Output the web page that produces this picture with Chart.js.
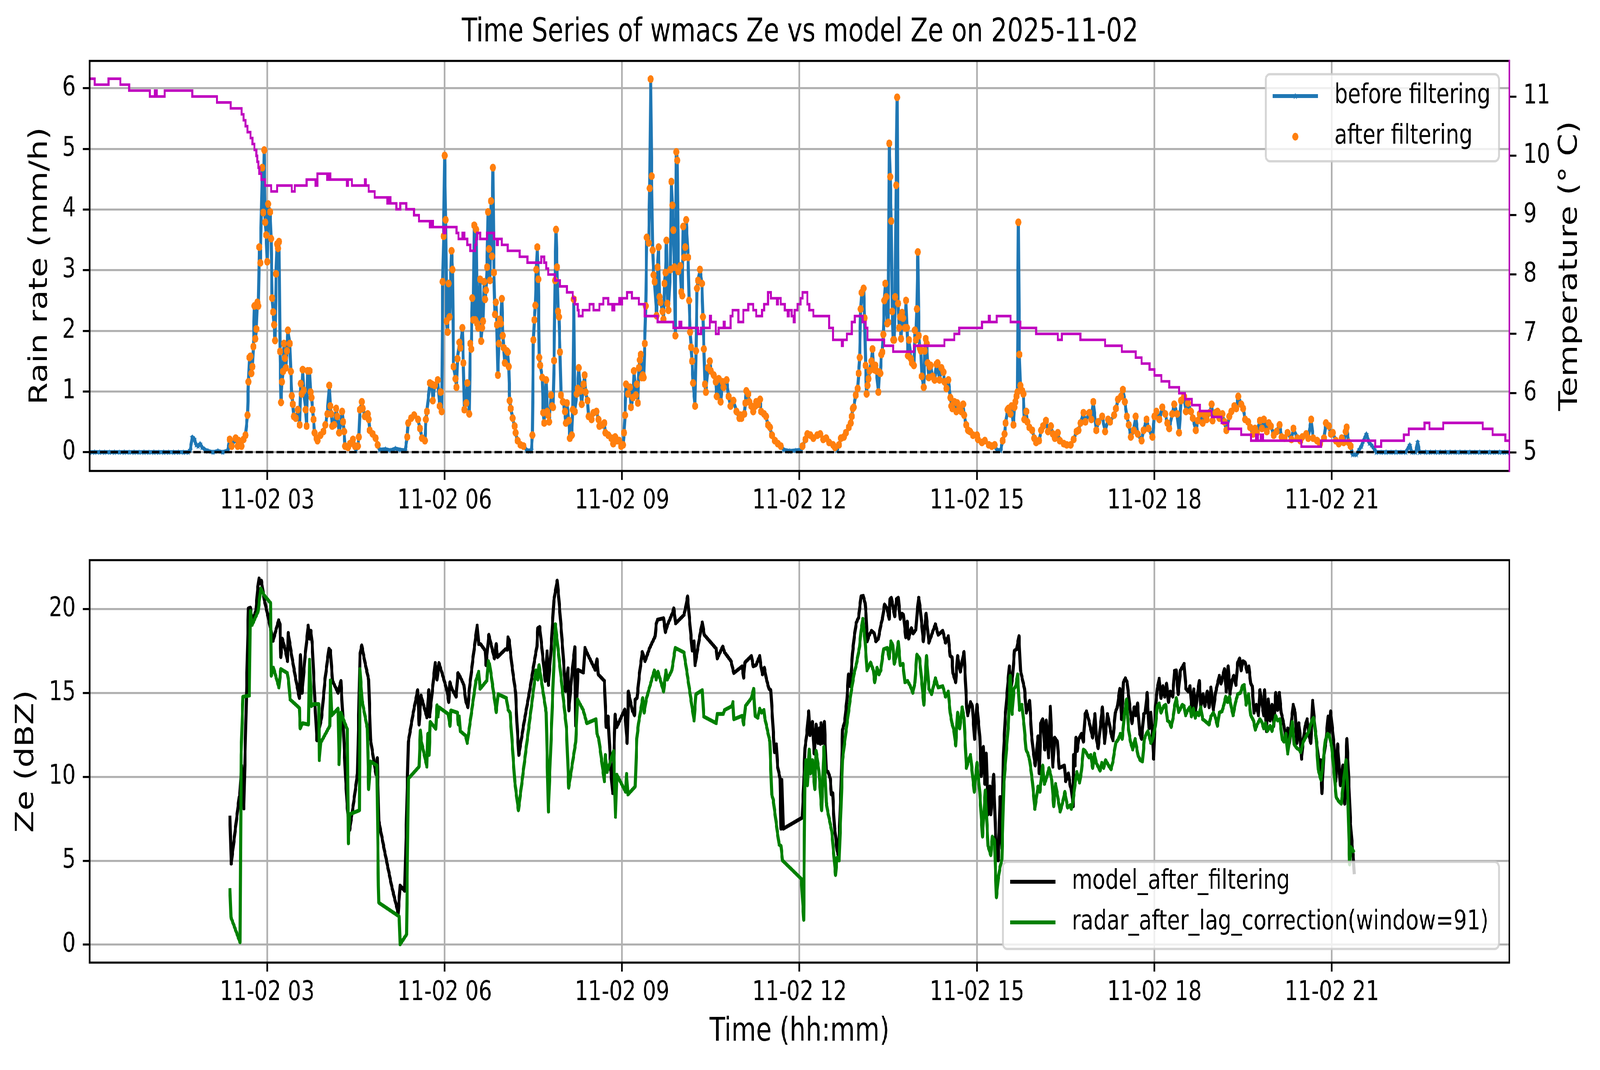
<!DOCTYPE html>
<html><head><meta charset="utf-8">
<script src="https://cdn.jsdelivr.net/npm/chart.js@4.4.1/dist/chart.umd.min.js"></script>
<style>
html,body{margin:0;padding:0;background:#fff;overflow:hidden;width:100%;height:100%;}
#viewport{position:fixed;left:0;top:0;width:100vw;height:100vh;overflow:hidden;background:#fff;}
#wrap{position:absolute;left:0;top:0;width:5241px;height:2740px;background:#fff;transform-origin:0 0;}
canvas{position:absolute;left:0;}
</style></head><body>
<div id="viewport"><div id="wrap">
<canvas id="topChart" width="5241" height="1370" style="top:0;width:5241px;height:1370px"></canvas>
<canvas id="botChart" width="5241" height="1370" style="top:1370px;width:5241px;height:1370px"></canvas>
</div></div>
<script>
(function () {
  const sx = window.innerWidth / 5241, sy = window.innerHeight / 2740;
  document.getElementById('wrap').style.transform = 'scale(' + sx + ',' + sy + ')';
})();
// ---------------- DATA (minutes after 2025-11-02 00:00) ----------------
const xTickMinutes = [180, 360, 540, 720, 900, 1080, 1260];
const rainTicks = [0, 1, 2, 3, 4, 5, 6];
const tempTicks = [5, 6, 7, 8, 9, 10, 11];
const zeTicks = [0, 5, 10, 15, 20];

// rain rate before filtering [minute, mm/h]
const rainSeries = [
[0,0],[5,0],[10,0],[15,0],[20,0],[25,0],[30,0],[35,0],[40,0],[45,0],[50,0],[55,0],[60,0],[65,0],[70,0],[75,0],[80,0],[85,0],[90,0],[95,0],[100,0],[102,0.04],[104,0.25],[106,0.22],[108,0.12],[110,0.1],[112,0.14],[114,0.08],[117,0.04],[120,0.02],[125,0],[130,0.02],[135,0],[140,0.03],
[142,0.21],[144,0.10],[148,0.23],[150,0.10],[151,0.19],[154,0.10],[156,0.21],[158,0.28],[160,0.61],[161,1.16],[162,1.56],[163,1.58],[164,1.30],[165,1.41],[166,1.74],[167,2.41],[168,1.87],[169,2.03],[170,2.47],[171,2.41],[172,3.38],[173,3.12],[175,4.69],[176,3.95],[177,4.98],[178,3.79],[179,3.58],[180,3.14],[181,4.09],[183,3.96],[184,3.52],[185,2.54],[186,2.31],[187,2.10],[188,1.84],[189,2.94],[190,3.43],[191,3.36],[192,3.47],[193,1.66],[194,0.82],[195,1.16],[196,1.33],[197,1.79],[198,1.55],[199,1.39],[200,1.67],[201,2.01],[203,1.79],[204,1.33],[205,0.93],[206,0.79],[207,0.59],[209,0.56],[211,0.70],[213,0.45],[214,1.13],[215,0.96],[216,1.36],[217,1.02],[219,0.70],[220,0.43],[221,1.34],[223,1.34],[224,0.99],[225,0.90],[226,0.70],[227,0.54],[228,0.32],[230,0.23],[231,0.19],[234,0.28],[237,0.34],[239,0.45],[241,0.63],[243,1.10],[244,0.76],[245,0.63],[246,0.43],[248,0.45],[250,0.72],[251,0.59],[253,0.32],[256,0.67],[257,0.50],[258,0.34],[259,0.10],[262,0.08],[264,0.14],[267,0.21],[269,0.10],[270,0.03],[272,0.10],[273,0.25],[274,0.70],[276,0.83],[277,0.72],[279,0.59],[282,0.63],[283,0.54],[284,0.36],[287,0.30],[290,0.23],[292,0.12],[294,0.04],[300,0.05],[305,0.03],[310,0.06],[315,0.04],[320,0.03],[322,0.25],[323,0.48],[326,0.56],[329,0.61],[333,0.54],[335,0.39],[337,0.23],[340,0.19],[341,0.54],[342,0.67],[345,1.14],[347,1.12],[348,0.85],[350,1.10],[353,1.19],[355,0.76],[356,0.99],[357,0.67],[358,2.81],[359,3.56],[360,4.89],[361,3.83],[362,2.16],[363,1.98],[364,2.78],[365,2.23],[367,3.32],[368,3.01],[369,1.41],[371,1.21],[372,1.07],[373,1.54],[375,1.81],[376,1.72],[378,2.05],[379,1.47],[380,0.70],[382,0.81],[383,1.14],[385,0.63],[386,1.79],[387,1.70],[388,2.54],[389,2.18],[390,3.74],[391,2.18],[392,3.67],[393,2.12],[394,2.05],[396,2.85],[397,1.83],[398,2.05],[399,2.16],[400,2.81],[401,2.52],[402,2.67],[403,3.05],[404,3.96],[405,3.35],[406,2.83],[407,4.14],[408,3.23],[409,4.69],[410,2.96],[411,2.27],[412,2.47],[413,2.10],[414,1.27],[415,1.79],[416,2.19],[417,2.12],[418,2.53],[419,1.92],[420,1.72],[421,1.47],[423,1.67],[424,1.65],[425,1.41],[426,0.85],[427,0.72],[429,0.56],[431,0.43],[432,0.32],[434,0.19],[437,0.12],[440,0.10],[443,0.04],[446,0.02],[448,0.04],[449,0.28],[450,1.85],[451,2.18],[452,2.42],[453,3.01],[454,3.38],[455,2.85],[456,1.56],[457,1.43],[459,1.23],[460,0.65],[461,0.48],[463,1.19],[464,0.67],[465,0.61],[466,0.50],[468,0.94],[469,0.76],[470,0.74],[471,1.51],[472,2.83],[473,3.67],[474,3.05],[475,2.32],[476,2.23],[477,1.65],[478,0.94],[480,0.83],[482,0.67],[483,0.48],[484,0.81],[486,0.52],[487,0.23],[489,0.28],[490,0.70],[491,2.52],[492,0.67],[494,0.96],[495,1.05],[496,1.39],[498,1.01],[499,0.79],[501,1.12],[502,1.27],[503,0.99],[505,0.85],[506,0.59],[509,0.54],[511,0.65],[514,0.67],[516,0.54],[517,0.43],[520,0.45],[522,0.48],[523,0.32],[526,0.28],[529,0.23],[531,0.14],[533,0.25],[535,0.19],[537,0.19],[539,0.10],[541,0.12],[542,0.32],[543,0.61],[544,1.12],[546,0.96],[548,1.07],[549,0.74],[551,0.90],[552,1.34],[554,0.94],[555,1.12],[556,0.81],[557,1.39],[558,1.52],[559,1.61],[560,1.23],[561,1.27],[562,1.23],[563,1.79],[564,2.41],[565,3.54],[567,3.45],[568,4.35],[569,6.15],[570,4.55],[571,3.33],[572,2.92],[573,2.81],[575,2.25],[576,3.05],[577,3.38],[578,2.56],[579,2.47],[581,2.32],[582,2.19],[583,2.78],[584,2.96],[585,3.49],[586,2.45],[587,2.34],[589,3.01],[590,4.46],[591,4.07],[592,3.66],[593,3.05],[594,1.92],[595,4.95],[596,4.81],[597,2.98],[599,3.07],[600,2.64],[601,2.58],[602,3.72],[603,3.21],[604,3.38],[605,3.83],[607,3.21],[608,2.50],[609,1.98],[610,1.73],[611,1.50],[612,1.14],[614,0.76],[615,1.67],[616,2.70],[617,2.83],[619,3.01],[621,2.78],[622,2.23],[623,1.70],[624,1.12],[625,0.99],[627,1.39],[629,1.50],[630,1.34],[633,1.27],[635,1.16],[636,0.92],[638,1.21],[640,0.83],[642,1.16],[643,1.07],[646,1.19],[648,0.92],[650,0.76],[653,0.85],[656,0.67],[659,0.56],[660,0.61],[661,0.56],[664,0.63],[665,0.81],[666,1.01],[668,0.96],[669,0.83],[671,0.76],[673,0.67],[675,0.76],[676,0.83],[678,0.79],[680,0.87],[681,0.67],[684,0.63],[686,0.59],[688,0.45],[690,0.41],[692,0.28],[695,0.19],[698,0.14],[701,0.10],[704,0.04],[710,0.02],[716,0.03],[722,0.04],[723,0.10],[726,0.21],[728,0.30],[731,0.28],[734,0.23],[738,0.28],[741,0.30],[744,0.21],[747,0.23],[750,0.16],[754,0.12],[756,0.08],[758,0.03],[760,0.12],[762,0.23],[765,0.25],[767,0.32],[770,0.41],[772,0.48],[773,0.59],[774,0.72],[775,0.74],[777,0.94],[779,1.05],[780,1.30],[781,1.56],[782,2.36],[783,2.63],[785,2.70],[786,2.21],[787,1.43],[788,0.96],[789,1.10],[790,1.21],[791,1.34],[793,1.50],[794,1.70],[795,1.43],[796,1.36],[797,1.43],[798,1.34],[800,0.99],[801,1.32],[802,1.30],[803,1.61],[804,1.65],[805,1.94],[806,2.50],[807,2.78],[808,2.56],[809,2.12],[810,2.14],[811,5.09],[812,4.54],[813,3.81],[814,2.32],[815,1.85],[816,1.85],[817,2.56],[818,4.40],[819,5.85],[820,2.45],[821,2.05],[822,2.23],[823,1.87],[824,2.30],[825,2.21],[827,2.05],[828,2.50],[829,2.05],[830,1.59],[831,1.85],[833,1.54],[834,1.47],[836,1.43],[837,2.01],[838,1.85],[839,2.36],[840,3.30],[841,1.92],[842,1.72],[843,1.67],[844,1.25],[846,1.07],[847,1.67],[848,1.87],[849,1.79],[850,1.47],[851,1.23],[852,1.41],[853,1.43],[855,1.25],[857,1.19],[859,1.45],[860,1.47],[862,1.19],[864,1.39],[866,1.32],[867,1.16],[869,1.05],[871,1.19],[873,0.90],[874,0.76],[875,0.72],[877,0.83],[879,0.67],[880,0.81],[882,0.72],[884,0.67],[886,0.79],[887,0.61],[889,0.45],[891,0.36],[893,0.34],[896,0.28],[900,0.28],[901,0.21],[905,0.16],[908,0.19],[912,0.12],[915,0.10],[918,0.12],[920,0.04],[924,0.03],[926,0.19],[928,0.30],[929,0.48],[931,0.70],[932,0.72],[934,0.63],[935,0.76],[937,0.45],[938,0.74],[939,0.83],[940,0.92],[941,0.99],[942,3.79],[943,1.61],[944,1.10],[946,1.01],[947,0.96],[948,0.54],[950,0.67],[951,0.50],[953,0.41],[956,0.36],[958,0.23],[960,0.16],[963,0.19],[965,0.36],[967,0.43],[970,0.52],[972,0.34],[975,0.43],[977,0.30],[979,0.23],[982,0.32],[984,0.19],[988,0.14],[991,0.12],[995,0.12],[998,0.21],[1001,0.34],[1003,0.36],[1005,0.48],[1008,0.65],[1010,0.50],[1014,0.65],[1016,0.54],[1018,0.83],[1021,0.36],[1023,0.50],[1027,0.59],[1030,0.34],[1033,0.54],[1035,0.50],[1039,0.61],[1041,0.72],[1043,0.87],[1046,0.92],[1048,1.03],[1050,0.83],[1052,0.59],[1054,0.45],[1056,0.25],[1059,0.36],[1061,0.59],[1063,0.30],[1067,0.19],[1069,0.36],[1072,0.54],[1074,0.39],[1078,0.25],[1080,0.59],[1082,0.67],[1085,0.54],[1088,0.74],[1091,0.63],[1093,0.48],[1095,0.39],[1098,0.63],[1100,0.79],[1103,0.63],[1105,0.32],[1107,0.85],[1110,0.92],[1112,0.67],[1114,0.81],[1117,0.67],[1119,0.56],[1122,0.36],[1124,0.52],[1126,0.63],[1129,0.48],[1131,0.61],[1133,0.54],[1136,0.65],[1138,0.79],[1139,0.52],[1142,0.65],[1144,0.67],[1146,0.56],[1149,0.63],[1151,0.50],[1153,0.36],[1156,0.59],[1158,0.67],[1161,0.76],[1163,0.72],[1165,0.92],[1168,0.79],[1170,0.72],[1172,0.54],[1175,0.50],[1177,0.41],[1180,0.30],[1182,0.39],[1184,0.32],[1187,0.52],[1189,0.39],[1191,0.54],[1194,0.34],[1196,0.48],[1198,0.43],[1201,0.28],[1204,0.34],[1207,0.45],[1209,0.25],[1212,0.23],[1215,0.32],[1219,0.21],[1221,0.39],[1225,0.23],[1228,0.19],[1230,0.25],[1234,0.30],[1236,0.23],[1239,0.54],[1241,0.23],[1245,0.19],[1248,0.14],[1252,0.23],[1254,0.48],[1257,0.43],[1259,0.30],[1261,0.32],[1264,0.19],[1267,0.14],[1270,0.23],[1272,0.16],[1274,0.34],[1275,0.41],[1277,0.16],[1279,0.10],
[1281,-0.04],[1285,-0.04],[1288,0.05],[1290,0.10],[1292,0.19],[1295,0.30],[1298,0.15],[1300,0.12],[1303,0.05],[1305,0],[1310,0],[1315,0],[1320,0],[1325,0],[1330,0],[1335,0],[1339,0.12],[1341,0],[1345,0],[1347,0.17],[1349,0],[1355,0],[1360,0],[1365,0],[1370,0],[1375,0],[1380,0],[1385,0],[1390,0],[1395,0],[1400,0],[1405,0],[1410,0],[1415,0],[1420,0],[1425,0],[1430,0],[1435,0],[1440,0]
];
// filter used for the "after filtering" points
const filterWindow = [140, 1280];
const filterMinRain = 0.08;

// temperature steps [minute, deg C]
const temperatureSteps = [
[0,11.3],[5,11.2],[19,11.3],[31,11.2],[40,11.1],[61,11.0],[66,11.1],[68,11.0],[76,11.1],[104,11.0],[129,10.9],[143,10.8],[154,10.7],[156,10.6],[158,10.5],[160,10.4],[163,10.3],[165,10.2],[167,10.1],[169,10.0],[170,9.9],[171,9.8],[172,9.7],[174,9.6],[178,9.5],[184,9.4],[190,9.5],[205,9.4],[208,9.5],[220,9.6],[229,9.5],[231,9.7],[241,9.6],[242,9.7],[244,9.6],[261,9.5],[262,9.6],[266,9.5],[279,9.6],[280,9.5],[283,9.4],[289,9.3],[302,9.2],[304,9.3],[305,9.2],[311,9.1],[315,9.2],[321,9.1],[329,9.0],[334,8.9],[345,8.8],[347,8.9],[348,8.8],[359,8.7],[361,8.8],[372,8.7],[374,8.6],[378,8.7],[380,8.6],[383,8.5],[386,8.4],[391,8.5],[392,8.6],[393,8.7],[396,8.6],[403,8.7],[410,8.6],[413,8.5],[414,8.6],[418,8.5],[424,8.4],[436,8.3],[444,8.2],[458,8.3],[461,8.2],[463,8.1],[465,8.0],[472,7.9],[477,7.8],[484,7.7],[490,7.6],[492,7.5],[495,7.4],[496,7.3],[500,7.4],[507,7.5],[511,7.4],[517,7.5],[521,7.6],[526,7.5],[530,7.4],[532,7.5],[537,7.6],[538,7.5],[540,7.6],[545,7.7],[550,7.6],[557,7.5],[563,7.3],[576,7.2],[592,7.1],[598,7.2],[600,7.1],[617,7.0],[620,7.1],[629,7.3],[630,7.2],[635,7.0],[638,7.1],[643,7.2],[644,7.1],[650,7.3],[652,7.4],[658,7.2],[663,7.4],[668,7.5],[673,7.4],[676,7.3],[682,7.4],[684,7.5],[688,7.7],[691,7.6],[697,7.5],[698,7.6],[701,7.5],[705,7.4],[708,7.3],[709,7.4],[712,7.3],[714,7.2],[715,7.4],[718,7.5],[721,7.6],[723,7.7],[728,7.5],[730,7.4],[734,7.3],[750,7.1],[754,6.9],[763,6.8],[764,6.9],[768,7.0],[773,7.2],[776,7.3],[784,7.2],[787,7.1],[789,6.9],[806,6.8],[815,6.7],[836,6.8],[867,6.9],[877,7.0],[882,7.1],[905,7.2],[912,7.3],[913,7.2],[920,7.3],[934,7.2],[944,7.1],[960,7.0],[982,6.9],[986,7.0],[1005,6.9],[1030,6.8],[1047,6.7],[1061,6.6],[1067,6.5],[1075,6.4],[1080,6.3],[1087,6.2],[1095,6.1],[1105,6.0],[1111,5.9],[1118,5.8],[1126,5.7],[1138,5.6],[1148,5.5],[1155,5.4],[1168,5.3],[1178,5.2],[1183,5.3],[1185,5.2],[1188,5.3],[1190,5.2],[1229,5.1],[1249,5.2],[1304,5.1],[1310,5.2],[1333,5.3],[1338,5.4],[1354,5.5],[1359,5.4],[1373,5.5],[1413,5.4],[1423,5.3],[1436,5.2],[1440,5.2]
];

// model Ze after filtering [minute, dBZ]
const modelSeries = [
[142.2,7.69],[143.5,4.83],[151.6,8.80],[152.2,8.87],[154.0,10.68],[156.3,8.12],[161.0,20.05],[162.9,20.09],[164.7,19.26],[168.5,19.89],[170.4,21.23],[171.7,21.83],[172.8,21.54],[174.1,21.70],[176.9,20.6],[181.1,19.5],[185.9,18.11],[191.6,19.34],[192.9,19.10],[193.8,17.14],[195.3,18.24],[198.5,17.53],[200.6,16.90],[201.3,18.58],[202.8,18.0],[205.1,17.14],[208.8,15.88],[212.6,14.70],[213.7,17.26],[215.4,15.01],[218.2,17.06],[221.6,19.02],[222.9,18.24],[224.2,18.71],[225.7,17.92],[227.6,15.40],[230.4,12.18],[235.1,13.52],[238.8,15.88],[242.6,17.64],[244.1,17.53],[246.3,15.72],[251.9,15.01],[254.8,15.72],[257.2,13.04],[259.5,9.90],[261.3,8.17],[263.6,6.83],[267.9,8.56],[271.6,10.21],[274.1,17.29],[275.9,17.84],[279.2,16.82],[282.9,15.80],[284.8,12.26],[287.6,11.16],[290.4,10.13],[291.7,11.12],[293.2,7.38],[298.8,5.65],[306.4,3.45],[312.9,1.87],[314.8,3.52],[319.5,3.21],[323.2,12.10],[327.9,13.75],[332.6,15.17],[334.1,13.12],[336.0,14.85],[342.0,13.55],[343.9,15.17],[344.8,13.6],[350.4,16.79],[352.3,15.80],[354.2,16.79],[358.9,15.88],[362.6,15.09],[364.1,14.46],[365.4,15.64],[367.3,15.25],[371.6,14.78],[373.5,16.19],[375.8,15.96],[379.5,15.48],[381.4,14.54],[383.6,14.15],[385.1,15.25],[388.9,17.14],[393.0,19.02],[394.5,17.92],[396.4,17.92],[401.1,17.53],[402.0,16.66],[404.8,18.47],[410.5,17.06],[412.3,17.92],[413.6,17.14],[421.7,17.61],[423.6,17.58],[424.2,18.32],[425.4,18.16],[428.2,16.66],[432.0,15.01],[433.3,13.28],[435.2,11.31],[440.4,13.20],[446.1,15.09],[450.8,16.82],[453.6,17.77],[454.5,18.87],[456.4,18.94],[459.2,17.37],[462.0,15.72],[463.9,17.48],[465.2,15.48],[467.6,17.29],[470.8,20.52],[474.2,21.70],[476.1,20.44],[479.8,17.61],[482.6,15.12],[485.1,16.47],[486.0,13.96],[489.2,16.19],[492.0,17.73],[493.0,13.04],[495.2,16.38],[500.8,16.22],[502.3,17.69],[504.6,17.37],[512.7,16.38],[514.5,17.01],[515.8,16.11],[522.0,15.72],[523.9,12.97],[525.8,13.60],[528.6,10.37],[530.5,9.03],[532.9,13.71],[534.6,12.97],[539.9,13.67],[542.7,14.02],[545.1,12.02],[546.4,15.09],[550.2,13.99],[552.6,13.67],[553.4,14.62],[555.2,14.70],[557.7,16.19],[560.5,17.45],[563.3,16.90],[568.0,17.69],[573.6,18.39],[574.6,19.10],[575.9,19.37],[582.1,19.46],[583.9,18.63],[585.8,19.02],[591.4,19.81],[592.4,20.05],[594.3,19.15],[602.7,19.65],[604.6,20.13],[606.4,20.76],[611.1,17.53],[613.0,18.08],[614.0,16.66],[619.0,18.47],[621.4,19.21],[623.3,18.47],[635.5,17.64],[636.5,17.06],[642.1,17.77],[644.0,17.42],[650.5,16.90],[653.3,16.19],[661.8,16.59],[663.3,15.91],[664.6,16.82],[671.2,17.21],[673.0,16.59],[675.8,16.66],[679.6,17.21],[680.5,16.74],[682.4,16.11],[684.3,16.51],[686.2,15.88],[689.0,15.25],[690.9,15.17],[693.3,12.73],[694.6,11.47],[696.5,11.94],[697.8,10.61],[700.2,9.90],[701.2,6.91],[702.1,9.82],[703.4,6.91],[722.7,7.57],[724.2,9.58],[725.5,11.71],[727.4,12.57],[729.3,13.91],[730.6,12.49],[733.0,13.28],[734.9,11.39],[736.8,13.12],[738.7,12.02],[740.0,12.89],[741.1,11.97],[741.8,13.20],[743.3,12.02],[745.2,13.28],[747.1,10.37],[749.0,10.29],[751.2,9.90],[752.3,8.95],[753.7,9.03],[754.6,7.85],[755.5,6.99],[756.8,6.36],[758.0,5.65],[759.3,5.33],[760.6,7.07],[762.1,9.43],[763.6,12.81],[765.8,13.28],[768.1,14.62],[769.6,16.11],[771.5,15.41],[773.7,17.37],[775.6,18.39],[777.5,19.18],[779.9,19.50],[782.4,20.76],[784.6,20.79],[786.5,20.36],[787.4,19.73],[788.7,18.08],[790.2,18.39],[793.0,18.71],[795.9,18.55],[797.4,18.08],[800.0,18.24],[802.4,19.02],[804.3,19.50],[806.2,20.28],[808.6,20.05],[810.9,19.42],[811.8,20.60],[813.1,20.68],[814.6,20.20],[816.5,19.57],[818.4,20.60],[820.2,20.68],[822.1,19.42],[824.0,19.73],[825.5,19.65],[827.7,18.32],[829.2,19.26],[830.6,18.24],[833.4,18.87],[835.3,18.55],[838.1,18.79],[839.4,19.89],[840.9,20.68],[842.4,20.05],[845.6,18.08],[848.4,19.73],[851.2,18.0],[857.8,19.10],[860.6,18.47],[865.3,18.71],[868.1,18.0],[870.9,18.39],[872.8,17.21],[874.6,17.14],[875.6,16.19],[878.4,15.64],[880.3,17.21],[883.1,16.27],[886.8,17.45],[889.6,14.15],[890.6,13.67],[893.4,14.46],[895.3,14.22],[897.5,12.26],[900.0,14.30],[902.8,12.42],[904.3,10.05],[906.5,11.79],[908.0,9.58],[909.4,11.39],[911.2,7.77],[913.1,9.43],[914.0,7.77],[916.9,10.13],[919.3,5.81],[921.5,5.02],[923.4,8.80],[925.3,5.73],[926.8,11.31],[928.7,13.60],[930.9,15.25],[932.8,16.59],[934.7,15.33],[936.2,16.03],[938.0,17.53],[940.3,17.61],[942.6,18.39],[944.1,16.35],[948.2,15.25],[950.1,13.83],[953.4,14.54],[955.3,12.57],[957.2,11.47],[959.1,10.68],[961.9,12.42],[963.2,10.21],[964.7,13.20],[966.6,13.44],[968.8,11.63],[970.3,13.36],[972.6,11.16],[974.4,14.18],[976.9,10.61],[978.8,12.34],[981.6,12.10],[983.4,10.53],[988.7,10.68],[990.0,9.74],[992.8,10.21],[994.7,9.43],[995.7,9.27],[997.6,8.25],[997.9,11.31],[999.5,10.68],[1000.4,12.34],[1001.7,11.55],[1003.2,12.26],[1006.0,12.57],[1007.9,12.10],[1009.8,13.75],[1011.1,13.91],[1013.5,13.36],[1017.3,12.34],[1019.7,13.75],[1021.0,12.34],[1022.9,11.71],[1024.8,12.81],[1027.2,14.15],[1029.5,12.02],[1032.3,13.75],[1034.2,13.20],[1036.0,12.57],[1037.9,12.18],[1040.3,13.83],[1042.6,14.22],[1044.8,15.25],[1046.7,13.44],[1048.6,15.64],[1050.5,15.88],[1052.3,15.64],[1055.4,13.99],[1057.2,13.20],[1059.5,14.15],[1061.0,13.67],[1062.9,14.38],[1065.1,12.57],[1067.0,12.26],[1069.2,13.75],[1070.7,13.83],[1072.6,15.01],[1074.5,12.89],[1076.4,13.83],[1078.2,12.26],[1079.2,11.08],[1081.0,14.15],[1082.9,15.25],[1084.8,15.85],[1086.7,14.70],[1088.6,15.41],[1090.4,14.78],[1092.3,15.56],[1094.2,14.46],[1096.1,15.09],[1098.5,14.78],[1100.4,16.32],[1102.2,16.35],[1104.1,14.93],[1106.4,16.35],[1110.1,16.74],[1112.0,15.25],[1114.3,15.09],[1116.1,15.41],[1118.0,13.99],[1119.9,15.22],[1121.8,13.99],[1123.3,14.78],[1125.5,15.72],[1127.0,14.15],[1129.3,14.93],[1131.1,14.22],[1133.6,15.09],[1135.4,14.15],[1137.3,15.33],[1139.8,13.99],[1142.0,15.01],[1145.8,16.03],[1147.6,15.56],[1151.0,16.43],[1152.9,15.09],[1154.8,16.59],[1156.6,14.93],[1158.5,15.72],[1160.4,16.03],[1162.6,15.48],[1164.5,16.82],[1166.4,17.06],[1167.9,16.35],[1169.8,16.90],[1172.0,16.82],[1173.9,16.27],[1175.8,16.59],[1177.7,15.56],[1179.2,15.41],[1181.0,13.83],[1183.3,14.30],[1185.5,13.67],[1187.0,15.17],[1190.8,13.67],[1191.7,15.17],[1193.6,12.73],[1195.5,14.62],[1197.3,13.36],[1199.2,14.30],[1201.1,13.04],[1203.0,15.01],[1204.9,13.99],[1206.7,15.01],[1208.6,13.83],[1211.0,13.20],[1213.3,12.26],[1215.2,12.89],[1217.0,12.02],[1218.9,13.28],[1220.8,14.30],[1222.7,13.83],[1224.5,12.02],[1226.4,13.20],[1227.9,12.42],[1229.2,11.08],[1231.1,12.26],[1233.0,13.04],[1234.9,13.44],[1236.7,12.49],[1238.6,12.02],[1240.5,14.54],[1242.4,13.20],[1244.2,12.26],[1247.1,10.68],[1248.6,11.0],[1249.9,9.03],[1251.7,11.16],[1254.2,12.26],[1256.1,13.60],[1257.4,12.57],[1258.7,13.91],[1260.2,13.04],[1262.1,11.94],[1263.9,9.74],[1265.8,11.94],[1268.6,9.50],[1271.1,10.68],[1272.9,8.40],[1275.2,12.26],[1277.1,9.90],[1278.9,7.22],[1280.8,5.73],[1281.8,5.18],[1282.7,4.2]
];

// radar Ze after lag correction [minute, dBZ]
const radarSeries = [
[142.2,3.37],[143.2,1.64],[152.5,0.14],[153.5,11.31],[155.4,14.78],[161.9,14.85],[162.9,19.89],[164.7,19.06],[170.9,19.89],[172.2,20.6],[173.5,21.23],[176.9,20.83],[183.5,20.36],[184.1,16.03],[186.3,16.51],[191.9,15.33],[193.8,16.43],[200.4,16.19],[201.7,15.72],[203.2,14.62],[212.6,14.11],[213.5,12.89],[215.9,13.20],[221.9,13.12],[222.9,16.98],[224.8,14.22],[227.2,14.34],[232.3,14.34],[232.8,11.0],[234.1,12.02],[243.5,13.04],[244.1,15.75],[245.4,13.67],[251.9,14.07],[252.9,10.76],[254.8,13.83],[261.3,12.81],[262.3,6.04],[263.6,7.77],[273.5,8.01],[274.1,16.43],[276.3,14.54],[281.6,12.89],[282.9,9.27],[284.8,10.92],[291.3,10.68],[292.8,3.52],[293.2,2.50],[313.9,1.68],[314.8,0.02],[321.4,0.61],[323.2,9.90],[334.1,10.61],[335.4,12.76],[336.4,12.1],[342.0,10.61],[342.9,12.57],[344.2,11.31],[345.4,13.28],[351.0,12.86],[352.3,14.27],[353.3,13.60],[354.2,14.15],[363.6,13.75],[365.4,13.04],[366.4,13.96],[372.9,13.83],[373.9,13.12],[374.8,13.60],[375.8,12.73],[381.4,12.45],[382.9,12.02],[391.7,15.72],[394.5,16.27],[396.0,15.25],[402.9,15.75],[404.3,16.90],[405.8,16.66],[410.5,14.65],[412.3,13.86],[414.2,14.93],[422.6,14.70],[424.5,13.99],[426.4,13.83],[431.1,9.74],[434.8,8.01],[452.6,16.35],[454.5,15.80],[455.8,16.66],[463.0,13.83],[465.2,7.93],[472.3,19.10],[474.2,18.08],[483.6,12.89],[485.8,9.35],[493.0,12.10],[494.8,14.62],[500.5,13.99],[504.2,13.20],[513.6,13.44],[514.5,12.57],[516.4,12.26],[522.0,9.74],[523.0,11.31],[524.8,10.29],[531.4,11.55],[533.3,7.62],[534.6,10.13],[543.6,9.11],[544.5,10.18],[545.9,8.95],[553.4,9.43],[554.9,12.26],[556.7,13.20],[560.9,14.70],[562.4,13.83],[564.6,14.65],[572.7,16.35],[574.6,15.80],[576.4,16.27],[582.1,15.09],[584.5,16.35],[585.8,15.80],[590.5,16.35],[593.9,17.69],[602.7,17.42],[605.5,16.35],[613.0,13.36],[614.9,14.93],[621.4,15.17],[622.8,13.60],[635.5,13.20],[636.5,13.75],[642.6,13.75],[644.0,13.99],[651.5,14.22],[652.4,14.46],[653.3,13.44],[661.8,13.64],[663.3,13.12],[665.1,14.22],[671.2,14.70],[673.4,15.25],[674.9,13.64],[677.7,13.52],[679.6,14.07],[681.5,13.83],[683.9,13.99],[684.7,13.52],[686.2,13.12],[689.9,12.10],[691.8,8.95],[693.3,8.64],[697.4,6.75],[699.3,5.96],[701.2,5.89],[702.7,5.02],[721.8,3.92],[724.2,1.48],[725.5,10.21],[726.5,11.0],[728.0,9.50],[729.8,11.63],[731.1,10.21],[733.0,11.0],[735.5,9.27],[736.8,11.55],[739.6,10.37],[742.4,8.01],[744.8,11.79],[747.1,8.48],[748.6,7.93],[752.7,6.75],[754.6,5.49],[756.5,4.15],[758.0,5.18],[760.2,5.02],[762.1,8.17],[763.6,11.0],[766.8,12.57],[769.6,13.83],[772.4,15.09],[775.2,16.11],[778.0,16.82],[780.9,17.77],[782.4,18.71],[784.2,19.42],[786.5,18.08],[788.4,16.35],[792.1,16.82],[794.9,16.35],[796.2,15.64],[798.7,16.51],[800.6,16.11],[802.4,16.35],[805.2,17.61],[809.0,17.69],[810.9,17.06],[812.7,18.08],[814.6,17.85],[816.1,16.74],[818.4,17.29],[820.2,18.05],[822.1,16.66],[824.9,16.74],[826.8,15.64],[829.6,15.72],[832.4,15.41],[834.9,15.01],[837.1,15.64],[839.0,17.29],[841.8,17.06],[846.1,14.30],[848.8,17.21],[851.2,15.25],[854.0,14.93],[857.8,15.88],[860.6,15.33],[865.3,15.41],[868.1,14.78],[870.9,15.09],[872.8,13.83],[874.6,13.20],[876.5,12.81],[878.4,11.87],[880.3,13.83],[882.5,12.89],[885.0,14.15],[886.8,13.52],[889.3,10.53],[891.5,11.0],[893.4,11.31],[897.2,9.11],[900.0,10.84],[902.8,9.11],[905.6,6.44],[908.4,9.19],[911.2,5.89],[914.0,5.33],[915.5,6.44],[917.8,6.20],[919.7,2.82],[921.5,3.92],[923.4,4.63],[925.3,5.10],[927.2,9.50],[929.4,11.24],[931.9,13.20],[933.7,16.03],[935.6,13.75],[937.5,15.25],[939.4,15.41],[941.2,16.11],[943.1,13.99],[945.6,14.30],[947.8,13.04],[949.7,11.63],[951.6,11.39],[953.4,11.0],[956.2,9.74],[958.7,8.09],[961.9,9.43],[963.8,9.11],[966.6,10.68],[968.4,9.58],[970.3,9.90],[973.1,10.53],[975.9,9.82],[977.8,8.25],[979.7,9.58],[984.4,7.93],[987.2,8.56],[989.1,9.11],[991.9,8.17],[994.7,8.32],[995.7,8.09],[997.2,8.48],[999.5,9.58],[1001.3,10.29],[1004.1,9.66],[1006.0,10.37],[1007.9,11.63],[1009.8,11.55],[1013.5,11.16],[1015.4,11.31],[1017.3,10.53],[1019.1,11.39],[1021.0,10.84],[1024.8,10.37],[1026.6,10.84],[1028.5,10.53],[1030.4,11.0],[1034.2,10.61],[1036.0,10.45],[1037.9,10.92],[1040.7,12.02],[1043.5,12.26],[1045.4,12.57],[1047.3,12.26],[1049.2,13.52],[1051.6,14.62],[1053.8,12.81],[1055.7,12.10],[1058.0,11.63],[1060.4,12.26],[1063.2,11.31],[1065.5,11.0],[1067.9,10.92],[1069.8,12.26],[1071.7,12.57],[1073.5,12.73],[1076.4,12.02],[1078.2,12.26],[1081.0,13.04],[1082.9,14.22],[1084.8,14.38],[1086.7,13.83],[1089.5,14.22],[1091.4,14.30],[1093.2,13.36],[1095.1,13.28],[1097.0,12.97],[1098.9,13.52],[1100.7,14.30],[1102.2,14.70],[1104.5,13.86],[1106.4,14.07],[1108.2,14.30],[1110.1,14.22],[1111.6,13.67],[1113.9,13.99],[1115.8,14.15],[1117.6,13.60],[1119.5,14.07],[1121.4,13.52],[1123.3,13.83],[1125.1,13.67],[1127.0,14.15],[1128.9,13.44],[1130.8,13.36],[1135.4,13.12],[1137.3,13.60],[1139.8,13.83],[1142.0,13.52],[1143.9,13.04],[1145.8,13.83],[1148.6,13.91],[1150.5,14.30],[1152.3,14.78],[1154.2,14.46],[1156.1,14.78],[1158.0,14.15],[1159.8,13.67],[1162.3,14.46],[1164.5,14.93],[1167.3,15.01],[1169.2,15.41],[1171.1,15.48],[1173.0,14.30],[1175.4,14.93],[1177.7,13.67],[1180.5,13.36],[1182.3,12.81],[1184.2,13.12],[1187.0,13.44],[1188.9,13.28],[1190.8,12.89],[1192.7,13.20],[1194.5,12.73],[1197.3,13.04],[1199.2,12.73],[1201.1,13.20],[1203.0,13.64],[1204.9,13.36],[1207.3,13.44],[1209.5,12.26],[1211.4,12.10],[1213.3,12.57],[1215.2,11.39],[1217.0,12.26],[1219.9,13.28],[1221.7,11.94],[1224.5,11.71],[1226.8,11.63],[1228.3,11.47],[1231.1,12.10],[1233.9,12.42],[1236.7,12.73],[1239.6,13.36],[1241.4,13.52],[1244.2,12.26],[1246.1,10.45],[1248.9,9.82],[1250.8,10.68],[1253.1,12.10],[1255.5,12.57],[1257.4,12.49],[1259.8,11.79],[1262.1,10.37],[1264.3,8.80],[1266.7,8.56],[1269.6,8.40],[1271.4,9.50],[1274.3,11.0],[1276.1,9.11],[1278.0,4.78],[1279.3,5.81],[1282.7,5.49]
];

// ---------------- STYLE ----------------
const FONT = "'DejaVu Sans', 'Liberation Sans', sans-serif";
const TICK_PX = 69, LABEL_PX = 83;
const LW = 5.3, GRID_COLOR = '#b0b0b0', TICK_LEN = 23;
const C_BLUE = '#1f77b4', C_ORANGE = '#ff7f0e', C_MAG = '#bf00bf', C_GREEN = '#008000';
const DOT_R = 10;
Chart.defaults.font.family = FONT;
Chart.defaults.color = '#000';

function starPath(ctx, cx, cy, R) {
  const r = R * 0.382;
  ctx.beginPath();
  for (let i = 0; i < 10; i++) {
    const rad = i % 2 ? r : R;
    const a = -Math.PI / 2 + i * Math.PI / 5;
    ctx.lineTo(cx + rad * Math.cos(a), cy + rad * Math.sin(a));
  }
  ctx.closePath();
}
const starImg = document.createElement('canvas');
starImg.width = 18; starImg.height = 18;
(function () { const c = starImg.getContext('2d'); c.fillStyle = C_BLUE; starPath(c, 9, 9.7, 9); c.fill(); })();

const toXY = arr => arr.map(p => ({ x: p[0], y: p[1] }));
const afterFiltering = rainSeries.filter(p => p[0] >= filterWindow[0] && p[0] <= filterWindow[1] && p[1] >= filterMinRain);

function xAxis(height, title) {
  return {
    type: 'linear', position: 'bottom', min: 0, max: 1440,
    afterBuildTicks: s => { s.ticks = xTickMinutes.map(v => ({ value: v })); },
    afterFit: s => { s.height = height; },
    ticks: { autoSkip: false, maxRotation: 0, minRotation: 0, padding: 14, color: '#000',
      font: { family: FONT, size: TICK_PX },
      callback: v => '11-02 ' + String(Math.round(v / 60)).padStart(2, '0') },
    grid: { color: GRID_COLOR, lineWidth: LW, drawTicks: true, tickLength: TICK_LEN, tickColor: '#000', tickWidth: LW },
    border: { display: false },
    title: title ? { display: true, text: title, color: '#000', font: { family: FONT, size: LABEL_PX }, padding: { top: 0, bottom: 47 } } : { display: false }
  };
}
function yAxis(opts) {
  return {
    type: 'linear', position: opts.position, min: opts.min, max: opts.max,
    afterBuildTicks: s => { s.ticks = opts.ticks.map(v => ({ value: v })); },
    afterFit: s => { s.width = opts.width; },
    ticks: { padding: 23, color: '#000', font: { family: FONT, size: TICK_PX }, callback: v => String(v) },
    grid: { color: GRID_COLOR, lineWidth: LW, drawOnChartArea: opts.grid, drawTicks: true, tickLength: TICK_LEN, tickColor: '#000', tickWidth: LW },
    border: { display: false },
    title: opts.title ? { display: true, text: opts.title, color: '#000', font: { family: FONT, size: LABEL_PX }, padding: { top: opts.titlePad, bottom: 0 } } : { display: false }
  };
}

const framePlugin = {
  id: 'frame',
  afterDatasetsDraw(chart, args, o) {
    const ctx = chart.ctx, a = chart.chartArea;
    ctx.save();
    ctx.lineWidth = LW; ctx.strokeStyle = '#000';
    ctx.strokeRect(a.left, a.top, a.right - a.left, a.bottom - a.top);
    if (o.rightColor) {
      ctx.strokeStyle = o.rightColor;
      ctx.beginPath(); ctx.moveTo(a.right, a.top - LW / 2); ctx.lineTo(a.right, a.bottom + LW / 2); ctx.stroke();
    }
    ctx.restore();
  },
  afterDraw(chart, args, o) {
    const ctx = chart.ctx;
    ctx.save();
    if (o.sideTitle) {
      ctx.translate(o.sideTitle.x, o.sideTitle.y);
      ctx.rotate(-Math.PI / 2);
      ctx.font = LABEL_PX + 'px ' + FONT;
      ctx.fillStyle = '#000'; ctx.textAlign = 'center'; ctx.textBaseline = 'middle';
      ctx.fillText(o.sideTitle.text, 0, 0);
      ctx.setTransform(1, 0, 0, 1, 0, 0);
    }
    if (o.legend) {
      const L = o.legend, [x0, y0, x1, y1] = L.box, r = 14;
      ctx.beginPath();
      ctx.moveTo(x0 + r, y0); ctx.lineTo(x1 - r, y0); ctx.arcTo(x1, y0, x1, y0 + r, r);
      ctx.lineTo(x1, y1 - r); ctx.arcTo(x1, y1, x1 - r, y1, r);
      ctx.lineTo(x0 + r, y1); ctx.arcTo(x0, y1, x0, y1 - r, r);
      ctx.lineTo(x0, y0 + r); ctx.arcTo(x0, y0, x0 + r, y0, r);
      ctx.closePath();
      ctx.fillStyle = 'rgba(255,255,255,0.8)'; ctx.fill();
      ctx.lineWidth = 6; ctx.strokeStyle = 'rgba(204,204,204,0.8)'; ctx.stroke();
      L.items.forEach(it => {
        const cx = (L.hx0 + L.hx1) / 2;
        if (it.line) {
          ctx.beginPath(); ctx.lineCap = 'square'; ctx.lineWidth = 10; ctx.strokeStyle = it.color;
          ctx.moveTo(L.hx0, it.y); ctx.lineTo(L.hx1, it.y); ctx.stroke();
        }
        if (it.star) { ctx.fillStyle = it.color; starPath(ctx, cx, it.y + 0.7, 9); ctx.fill(); }
        if (it.dot) { ctx.fillStyle = it.color; ctx.beginPath(); ctx.arc(cx, it.y, DOT_R, 0, Math.PI * 2); ctx.fill(); }
        ctx.font = TICK_PX + 'px ' + FONT; ctx.fillStyle = '#000'; ctx.textAlign = 'left'; ctx.textBaseline = 'middle';
        ctx.fillText(it.text, L.tx, it.y);
      });
    }
    ctx.restore();
  }
};

// ---------------- TOP CHART ----------------
new Chart(document.getElementById('topChart'), {
  type: 'line',
  data: {
    datasets: [
      { label: 'temperature', data: toXY(temperatureSteps), yAxisID: 'yT', xAxisID: 'x', stepped: 'before',
        borderColor: C_MAG, borderWidth: 6.6, pointRadius: 0, fill: false, order: 0 },
      { label: 'zero', data: [{ x: 0, y: 0 }, { x: 1440, y: 0 }], yAxisID: 'y', xAxisID: 'x',
        borderColor: '#000', borderWidth: 6, borderDash: [24, 10], pointRadius: 0, fill: false, order: 1 },
      { label: 'after filtering', data: toXY(afterFiltering), yAxisID: 'y', xAxisID: 'x', showLine: false,
        pointStyle: 'circle', pointRadius: DOT_R, pointBackgroundColor: C_ORANGE, pointBorderWidth: 0, borderColor: C_ORANGE, order: 2 },
      { label: 'before filtering', data: toXY(rainSeries), yAxisID: 'y', xAxisID: 'x',
        borderColor: C_BLUE, borderWidth: 10, borderJoinStyle: 'round', pointStyle: starImg, pointRadius: 6, fill: false, order: 3 }
    ]
  },
  options: {
    responsive: false, animation: false, devicePixelRatio: 1, events: [],
    layout: { padding: 0, autoPadding: false },
    scales: {
      x: xAxis(164, null),
      y: yAxis({ position: 'left', min: -0.31, max: 6.45, ticks: rainTicks, width: 294, grid: true, title: 'Rain rate (mm/h)', titlePad: 83 }),
      yT: yAxis({ position: 'right', min: 4.69, max: 11.6, ticks: tempTicks, width: 297, grid: false, title: null })
    },
    plugins: {
      legend: { display: false }, tooltip: { enabled: false },
      title: { display: true, text: 'Time Series of wmacs Ze vs model Ze on 2025-11-02', color: '#000',
        font: { family: FONT, size: LABEL_PX, weight: 'normal' }, padding: { top: 35, bottom: 21.4 } },
      frame: {
        rightColor: C_MAG,
        sideTitle: { text: 'Temperature (° C)', x: 5143, y: 681 },
        legend: { box: [4146, 190, 4910, 413], hx0: 4174, hx1: 4312, tx: 4371,
          items: [ { line: true, star: true, color: C_BLUE, y: 246, text: 'before filtering' },
                   { dot: true, color: C_ORANGE, y: 350, text: 'after filtering' } ] }
      }
    }
  },
  plugins: [framePlugin]
});

// ---------------- BOTTOM CHART ----------------
new Chart(document.getElementById('botChart'), {
  type: 'line',
  data: {
    datasets: [
      { label: 'radar_after_lag_correction(window=91)', data: toXY(radarSeries), borderColor: C_GREEN, borderWidth: 10,
        borderJoinStyle: 'round', pointRadius: 0, fill: false, order: 0 },
      { label: 'model_after_filtering', data: toXY(modelSeries), borderColor: '#000', borderWidth: 10,
        borderJoinStyle: 'round', pointRadius: 0, fill: false, order: 1 }
    ]
  },
  options: {
    responsive: false, animation: false, devicePixelRatio: 1, events: [],
    layout: { padding: { top: 45, right: 297, left: 0, bottom: 0 }, autoPadding: false },
    scales: {
      x: xAxis(275, 'Time (hh:mm)'),
      y: yAxis({ position: 'left', min: -1.07, max: 22.92, ticks: zeTicks, width: 294, grid: true, title: 'Ze (dBZ)', titlePad: 38 })
    },
    plugins: {
      legend: { display: false }, tooltip: { enabled: false }, title: { display: false },
      frame: {
        legend: { box: [3285, 837, 4910, 1060], hx0: 3314, hx1: 3452, tx: 3511,
          items: [ { line: true, color: '#000', y: 888, text: 'model_after_filtering' },
                   { line: true, color: C_GREEN, y: 992, text: 'radar_after_lag_correction(window=91)' } ] }
      }
    }
  },
  plugins: [framePlugin]
});
</script>
</body></html>
